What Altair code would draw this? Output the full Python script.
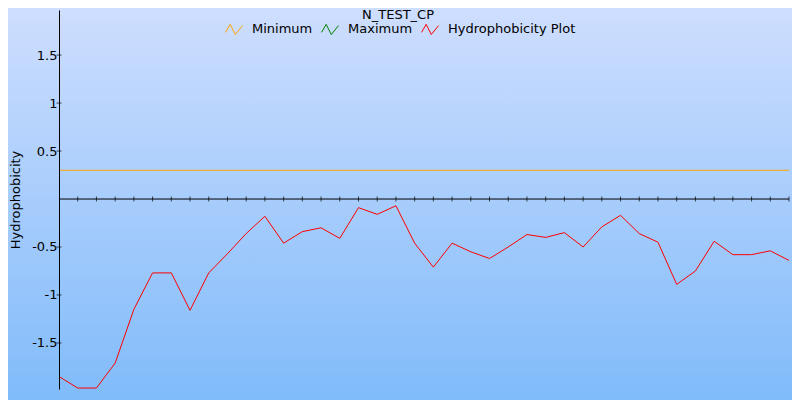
import altair as alt
import pandas as pd

# ---- data ----
positions = list(range(40))
hydro = [-1.85, -1.97, -1.97, -1.71, -1.15, -0.77, -0.77, -1.16, -0.77, -0.57,
         -0.36, -0.18, -0.46, -0.34, -0.30, -0.41, -0.09, -0.16, -0.07, -0.46,
         -0.71, -0.46, -0.55, -0.62, -0.50, -0.37, -0.40, -0.35, -0.50, -0.29,
         -0.17, -0.36, -0.45, -0.89, -0.75, -0.44, -0.58, -0.58, -0.54, -0.64]
minimum_value = [0.30]
series_names = ["Minimum", "Maximum", "Hydrophobicity Plot"]
series_colors = ["#ffa500", "#008000", "#ff0000"]
y_ticks = [-1.5, -1, -0.5, 0.5, 1, 1.5]
y_domain = [-1.98, 1.97]
x_domain = [0, 39]
chart_title = ["N_TEST_CP"]
y_title = "Hydrophobicity"

FONT = "DejaVu Sans"

line_df = pd.DataFrame({"x": positions, "value": hydro,
                        "series": ["Hydrophobicity Plot"] * len(positions)})
tick_df = pd.DataFrame({"x": positions[1:]})
ytick_df = pd.DataFrame({"v": y_ticks})
min_df = pd.DataFrame({"value": minimum_value, "series": ["Minimum"]})
title_df = pd.DataFrame({"t": chart_title})
one_df = pd.DataFrame({"a": [0]})

xscale = alt.Scale(domain=x_domain, nice=False, zero=False)
yscale = alt.Scale(domain=y_domain, nice=False, zero=False)
cscale = alt.Scale(domain=series_names, range=series_colors)

gradient = alt.Gradient(
    gradient="linear",
    stops=[alt.GradientStop(color="#cedefe", offset=0),
           alt.GradientStop(color="#80bbfa", offset=1)],
    x1=0, x2=0, y1=0, y2=1,
)

bg = alt.Chart(one_df).mark_rect(fill=gradient, strokeWidth=0).encode(
    x=alt.value(-51), x2=alt.value(733), y=alt.value(-2), y2=alt.value(390)
)

zero_line = alt.Chart(one_df).mark_rule(color="black", strokeWidth=1).encode(
    y=alt.datum(0)
)

xticks = alt.Chart(tick_df).mark_tick(
    orient="vertical", size=5, thickness=1, color="black"
).encode(
    x=alt.X("x:Q", scale=xscale, axis=None),
    y=alt.datum(0),
)

yticks = alt.Chart(ytick_df).mark_tick(
    orient="horizontal", size=5, thickness=1, color="black"
).encode(
    x=alt.value(0),
    y=alt.Y("v:Q", scale=yscale),
)

min_rule = alt.Chart(min_df).mark_rule(strokeWidth=1).encode(
    y=alt.Y("value:Q", scale=yscale),
    color=alt.Color("series:N", scale=cscale),
)

line = alt.Chart(line_df).mark_line(strokeWidth=1).encode(
    x=alt.X("x:Q", scale=xscale, axis=None),
    y=alt.Y(
        "value:Q",
        scale=yscale,
        axis=alt.Axis(
            values=y_ticks,
            labelExpr="'' + datum.value",
            grid=False,
            zindex=1,
            domainColor="black",
            ticks=False,
            labelPadding=2,
            labelFont=FONT,
            labelFontSize=13,
            labelColor="black",
            title=y_title,
            titleFont=FONT,
            titleFontSize=13,
            titleFontWeight="normal",
            titleColor="black",
            titlePadding=9,
        ),
    ),
    color=alt.Color(
        "series:N",
        scale=cscale,
        legend=alt.Legend(
            title=None,
            orient="none",
            legendX=166,
            legendY=10,
            direction="horizontal",
            symbolType="M-1,0.35 L-0.45,-0.6 L0.15,0.6 L1,-0.45",
            symbolSize=289,
            symbolStrokeWidth=1,
            symbolFillColor="transparent",
            labelFont=FONT,
            labelFontSize=13,
            labelColor="black",
            labelOffset=9,
            columnPadding=6,
            padding=0,
        ),
    ),
)

title = alt.Chart(title_df).mark_text(
    font=FONT, fontSize=13, color="black", align="center", baseline="alphabetic"
).encode(text="t:N", x=alt.value(339), y=alt.value(9))

chart = alt.layer(bg, zero_line, xticks, yticks, min_rule, line, title).properties(
    width=730,
    height=379,
    autosize=alt.AutoSizeParams(type="none"),
    padding={"left": 51, "top": 2, "right": 3, "bottom": 11},
).configure_view(stroke=None).configure(background="white")

chart.save("out.html", embed_options={"renderer": "svg", "actions": False})
